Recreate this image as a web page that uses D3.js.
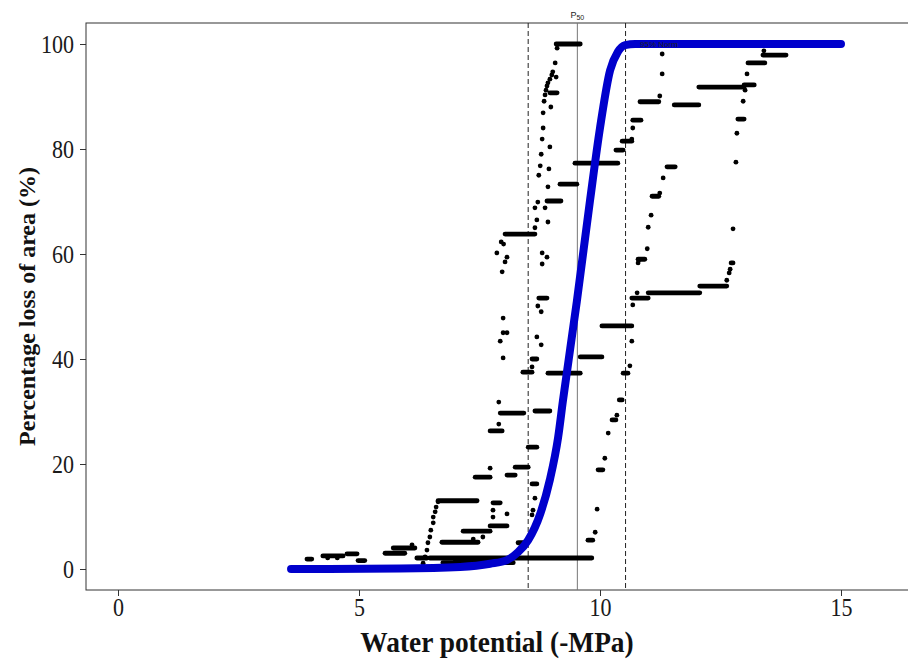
<!DOCTYPE html>
<meta charset="utf-8">
<style>
body { margin: 0; background: #fff; }
.axis text { font-family: "Liberation Serif", serif; font-size: 25px; fill: #1a1a1a; }
.axis line { stroke: #333; stroke-width: 1; }
.axis path { display: none; }
.title { font-family: "Liberation Serif", serif; font-weight: bold; fill: #111; }
</style>
<body>
<div id="plotHere"></div>
<script src="https://cdn.jsdelivr.net/npm/d3@7"></script>
<script>
//------------------------ DATA ------------------------//
const xTicks = [0, 5, 10, 15];
const yTicks = [0, 20, 40, 60, 80, 100];
const xlabel = "Water potential (-MPa)";
const ylabel = "Percentage loss of area (%)";

// P50 and the two dashed limits
const p50 = 9.53;
const limLow = 8.51;
const limHigh = 10.53;

// fitted vulnerability curve
const fitX = [3.59, 5.85, 7.10, 7.72, 8.07, 8.30, 8.51, 8.76, 8.96, 9.13, 9.23, 9.52, 9.79, 10.00, 10.21, 10.37, 10.52, 10.73, 15.0];
const fitY = [0, 0.1, 0.4, 1.0, 1.7, 3.2, 5.5, 10.5, 17, 25, 32, 51, 70, 84, 95, 98.5, 99.8, 100, 100];

// horizontal runs of overlapping points: [x start, x end, y]
const runs = [
  [3.92, 4.02, 1.9], [4.25, 4.67, 2.5], [4.75, 4.96, 2.9], [4.98, 5.12, 1.6],
  [5.54, 5.95, 3.0], [5.71, 6.16, 4.0], [6.20, 6.41, 2.1], [6.47, 9.83, 2.1],
  [6.74, 8.20, 1.2], [7.00, 7.90, 1.7], [6.64, 7.45, 13.0], [6.72, 7.47, 5.1],
  [7.16, 7.72, 7.2], [7.72, 8.07, 8.2], [7.78, 7.93, 12.6], [7.41, 7.72, 17.5],
  [8.07, 8.24, 17.9], [8.24, 8.51, 19.4], [8.30, 8.49, 5.0], [8.59, 8.69, 16.2],
  [7.93, 8.42, 29.7], [8.65, 8.96, 30.1], [7.72, 7.97, 26.3], [8.51, 8.69, 23.2],
  [9.96, 10.06, 18.9], [8.03, 8.65, 63.8], [8.90, 9.19, 70.1], [8.73, 8.90, 51.6],
  [8.59, 8.69, 40.0], [8.40, 8.59, 37.5], [8.92, 9.59, 37.3], [9.59, 10.04, 40.4],
  [10.04, 10.66, 46.3], [9.09, 9.59, 100], [8.96, 9.11, 90.7], [9.17, 9.52, 73.3],
  [9.48, 10.37, 77.3], [10.66, 11.00, 51.6], [11.00, 12.07, 52.6], [12.07, 12.63, 53.9],
  [12.72, 12.76, 58.3], [10.79, 10.93, 59.0], [10.48, 10.58, 37.3], [10.40, 10.46, 32.2],
  [10.25, 10.33, 28.4], [9.75, 9.85, 5.5], [10.83, 11.22, 89.0], [11.54, 12.05, 88.4],
  [12.05, 12.99, 91.8], [12.99, 13.20, 92.2], [12.86, 12.99, 85.7], [13.07, 13.42, 96.4],
  [13.38, 13.86, 97.9], [10.68, 10.85, 85.5], [10.46, 10.66, 81.5], [10.33, 10.48, 79.8],
  [11.39, 11.56, 76.6], [11.08, 11.22, 71.0]
];

// single points: [x, y]
const dots = [
  [4.35, 2.1], [4.55, 2.1], [6.10, 4.6],
  [6.33, 1.1], [6.37, 2.3], [6.41, 3.6], [6.43, 5.0], [6.47, 6.1], [6.49, 7.4],
  [6.54, 8.8], [6.54, 9.9], [6.58, 10.9], [6.60, 11.8], [6.64, 12.8],
  [7.37, 5.7], [7.57, 6.1], [7.78, 9.9], [7.78, 11.2], [8.07, 10.5], [7.72, 19.2],
  [8.65, 13.5], [8.61, 11.2], [8.59, 10.3], [7.90, 31.8], [7.90, 27.6],
  [7.95, 62.3], [8.00, 61.9], [7.86, 60.2], [8.07, 59.4], [8.03, 58.5], [7.97, 56.6],
  [8.71, 69.9], [8.65, 68.8], [8.69, 66.5], [8.65, 65.0], [8.86, 68.8], [8.92, 66.1],
  [8.80, 60.2], [8.90, 59.4], [8.80, 58.1], [8.71, 50.1], [8.78, 49.0],
  [7.99, 47.8], [7.99, 45.0], [8.07, 45.0], [7.93, 43.4], [7.99, 40.2],
  [8.69, 44.2], [8.78, 42.7], [8.59, 38.5],
  [9.11, 99.2], [9.07, 96.4], [9.02, 94.7], [9.00, 94.1], [9.09, 93.7], [8.96, 93.3],
  [8.92, 92.6], [8.90, 92.0], [8.88, 91.2], [8.86, 90.3], [8.84, 89.1], [8.98, 88.0],
  [8.82, 86.9], [8.82, 84.0], [8.80, 81.9], [8.96, 80.4], [8.78, 79.0], [8.76, 76.8],
  [8.94, 76.2], [8.73, 75.0], [8.92, 72.8],
  [10.77, 52.6], [10.68, 50.3], [10.79, 58.3], [10.81, 58.9], [10.98, 61.0], [11.00, 65.1],
  [10.66, 43.4], [10.62, 38.7], [10.35, 29.3], [10.17, 25.9], [10.10, 21.1],
  [9.94, 11.4], [9.90, 7.0],
  [12.63, 55.0], [12.68, 56.4], [12.70, 57.1], [12.76, 64.8],
  [11.29, 98.1], [11.29, 94.3], [11.24, 90.1],
  [13.01, 91.2], [12.97, 89.1], [12.84, 83.0], [12.82, 77.5], [13.05, 94.3], [13.40, 98.7],
  [10.68, 84.0], [10.66, 81.9], [11.31, 74.5], [11.24, 71.6], [11.06, 67.4]
];

//------------------------ SVG ------------------------//
var margin = {top: 23, right: 0, bottom: 72, left: 86},
    width = 908 - margin.left - margin.right,
    height = 662 - margin.top - margin.bottom;

// the original lettering is a bit narrow
const squeeze = 0.88;

var svg = d3.select("#plotHere").append("svg")
    .attr("width", 908)
    .attr("height", 662)
  .append("g")
    .attr("transform", "translate(" + margin.left + "," + margin.top + ")");

var x = d3.scaleLinear().domain([-0.664, 16.39]).range([0, width]);
var y = d3.scaleLinear().domain([-4, 104]).range([height, 0]);

//------------------------ AXES ------------------------//
svg.append("g")
    .attr("class", "axis")
    .attr("transform", "translate(0," + height + ")")
    .call(d3.axisBottom(x).tickValues(xTicks).tickSize(6).tickPadding(2))
  .selectAll("text")
    .attr("transform", "scale(" + squeeze + ",1)");

svg.append("g")
    .attr("class", "axis")
    .call(d3.axisLeft(y).tickValues(yTicks).tickSize(6).tickPadding(6))
  .selectAll("text")
    .attr("x", -12 / squeeze)
    .attr("transform", "scale(" + squeeze + ",1)");

// panel border (right side runs off the picture)
svg.append("rect")
    .attr("x", 0).attr("y", 0)
    .attr("width", width + 5).attr("height", height)
    .style("fill", "none")
    .style("stroke", "#333")
    .style("stroke-width", 1);

svg.append("text")
    .attr("class", "title")
    .attr("transform", "translate(" + (width / 2) + "," + (height + 62) + ") scale(0.945,1)")
    .style("font-size", "29px")
    .style("text-anchor", "middle")
    .text(xlabel);

svg.append("text")
    .attr("class", "title")
    .attr("transform", "translate(" + (-margin.left + 35) + "," + (height / 2) + ") rotate(-90)")
    .style("font-size", "24px")
    .style("text-anchor", "middle")
    .text(ylabel);

//------------------------ REFERENCE LINES ------------------------//
[limLow, limHigh].forEach(function(v) {
  svg.append("line")
      .attr("x1", x(v)).attr("x2", x(v))
      .attr("y1", 0).attr("y2", height)
      .style("stroke", "#222")
      .style("stroke-dasharray", "5,3");
});
svg.append("line")
    .attr("x1", x(p50)).attr("x2", x(p50))
    .attr("y1", 0).attr("y2", height)
    .style("stroke", "#777");

var p50lab = svg.append("text")
    .attr("x", x(p50))
    .attr("y", -5)
    .style("font", "9px 'Liberation Sans', sans-serif")
    .style("text-anchor", "middle")
    .style("fill", "#222");
p50lab.append("tspan").text("P");
p50lab.append("tspan").attr("dy", 2).style("font-size", "7px").text("50");

//------------------------ POINTS ------------------------//
svg.append("g").selectAll("line")
    .data(runs)
  .enter().append("line")
    .attr("x1", function(d) { return x(d[0]); })
    .attr("x2", function(d) { return x(d[1]); })
    .attr("y1", function(d) { return y(d[2]); })
    .attr("y2", function(d) { return y(d[2]); })
    .style("stroke", "#000")
    .style("stroke-width", 4.8)
    .style("stroke-linecap", "round");

svg.append("g").selectAll("circle")
    .data(dots)
  .enter().append("circle")
    .attr("cx", function(d) { return x(d[0]); })
    .attr("cy", function(d) { return y(d[1]); })
    .attr("r", 2.4)
    .style("fill", "#000");

//------------------------ FIT ------------------------//
var fit = fitX.map(function(v, i) { return [v, fitY[i]]; });
var valueline = d3.line()
    .curve(d3.curveMonotoneX)
    .x(function(d) { return x(d[0]); })
    .y(function(d) { return y(d[1]); });

svg.append("path")
    .datum(fit)
    .attr("d", valueline)
    .style("fill", "none")
    .style("stroke", "#0000cc")
    .style("stroke-width", 8)
    .style("stroke-linecap", "round");

svg.append("text")
    .attr("x", x(10.83))
    .attr("y", y(100) + 3)
    .style("font", "8px 'Liberation Sans', sans-serif")
    .style("fill", "#222")
    .text("95% Norm");
</script>
</body>
